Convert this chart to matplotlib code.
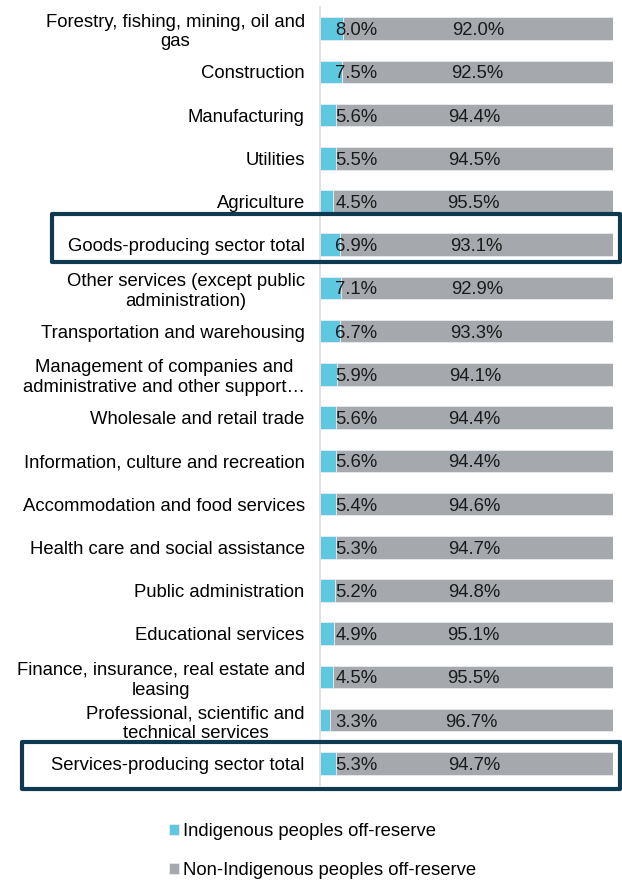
import numpy as np
import matplotlib.pyplot as plt
from matplotlib.patches import Rectangle

plt.rcParams['font.family'] = ['Liberation Sans', 'DejaVu Sans']

categories = [
    "Forestry, fishing, mining, oil and\ngas",
    "Construction",
    "Manufacturing",
    "Utilities",
    "Agriculture",
    "Goods-producing sector total",
    "Other services (except public\nadministration)",
    "Transportation and warehousing",
    "Management of companies and\nadministrative and other support\u2026",
    "Wholesale and retail trade",
    "Information, culture and recreation",
    "Accommodation and food services",
    "Health care and social assistance",
    "Public administration",
    "Educational services",
    "Finance, insurance, real estate and\nleasing",
    "Professional, scientific and\ntechnical services",
    "Services-producing sector total",
]
indigenous = [8.0, 7.5, 5.6, 5.5, 4.5, 6.9, 7.1, 6.7, 5.9, 5.6, 5.6, 5.4, 5.3, 5.2, 4.9, 4.5, 3.3, 5.3]
non_indigenous = [92.0, 92.5, 94.4, 94.5, 95.5, 93.1, 92.9, 93.3, 94.1, 94.4, 94.4, 94.6, 94.7, 94.8, 95.1, 95.5, 96.7, 94.7]
series_names = ["Indigenous peoples off-reserve", "Non-Indigenous peoples off-reserve"]

blue = "#5FC8E1"
grey = "#A5A9AD"
navy = "#0D3A50"
fs = 13.3

W, H = 622, 882
fig = plt.figure(figsize=(W / 100, H / 100), dpi=100)
ax = fig.add_axes([320 / W, 1 - 785 / H, 293 / W, (785 - 7) / H])

y = np.arange(len(categories))
ind = np.array(indigenous)
non = np.array(non_indigenous)
ax.barh(y, ind, height=0.52, color=blue, edgecolor="#E8ECEF", linewidth=0.6, label=series_names[0])
ax.barh(y, non, left=ind, height=0.52, color=grey, edgecolor="#E8ECEF", linewidth=0.6, label=series_names[1])

for yi, a, b in zip(y, ind, non):
    ax.text(5.2, yi, f"{a:.1f}%", ha="left", va="center_baseline", fontsize=fs, color="#1a1a1a")
    ax.text(a + b / 2, yi, f"{b:.1f}%", ha="center", va="center_baseline", fontsize=fs, color="#1a1a1a")

ax.set_xlim(0, 100)
ax.set_ylim(len(categories) - 0.5, -0.5)
ax.set_yticks(y)
ax.set_yticklabels(categories, fontsize=fs, multialignment="center")
ax.tick_params(axis="y", length=0, pad=11)
ax.set_xticks([])
for side in ["top", "right", "bottom"]:
    ax.spines[side].set_visible(False)
ax.spines["left"].set_color("#D9DDE1")
ax.spines["left"].set_linewidth(1.2)

# outline boxes around the two sector totals
for x0, y0, x1, y1 in [(52, 214, 620, 262), (22, 742, 620, 789)]:
    fig.patches.append(Rectangle((x0 / W, 1 - y1 / H), (x1 - x0) / W, (y1 - y0) / H,
                                 transform=fig.transFigure, fill=False,
                                 edgecolor=navy, linewidth=3, joinstyle="round"))

fig.legend(loc="upper left", bbox_to_anchor=(169 / W, 1 - 823 / H), frameon=False,
           fontsize=fs, handlelength=0.55, handleheight=0.55, handletextpad=0.2,
           labelspacing=1.2, borderaxespad=0, borderpad=0)

fig.savefig("out.png", dpi=100)
